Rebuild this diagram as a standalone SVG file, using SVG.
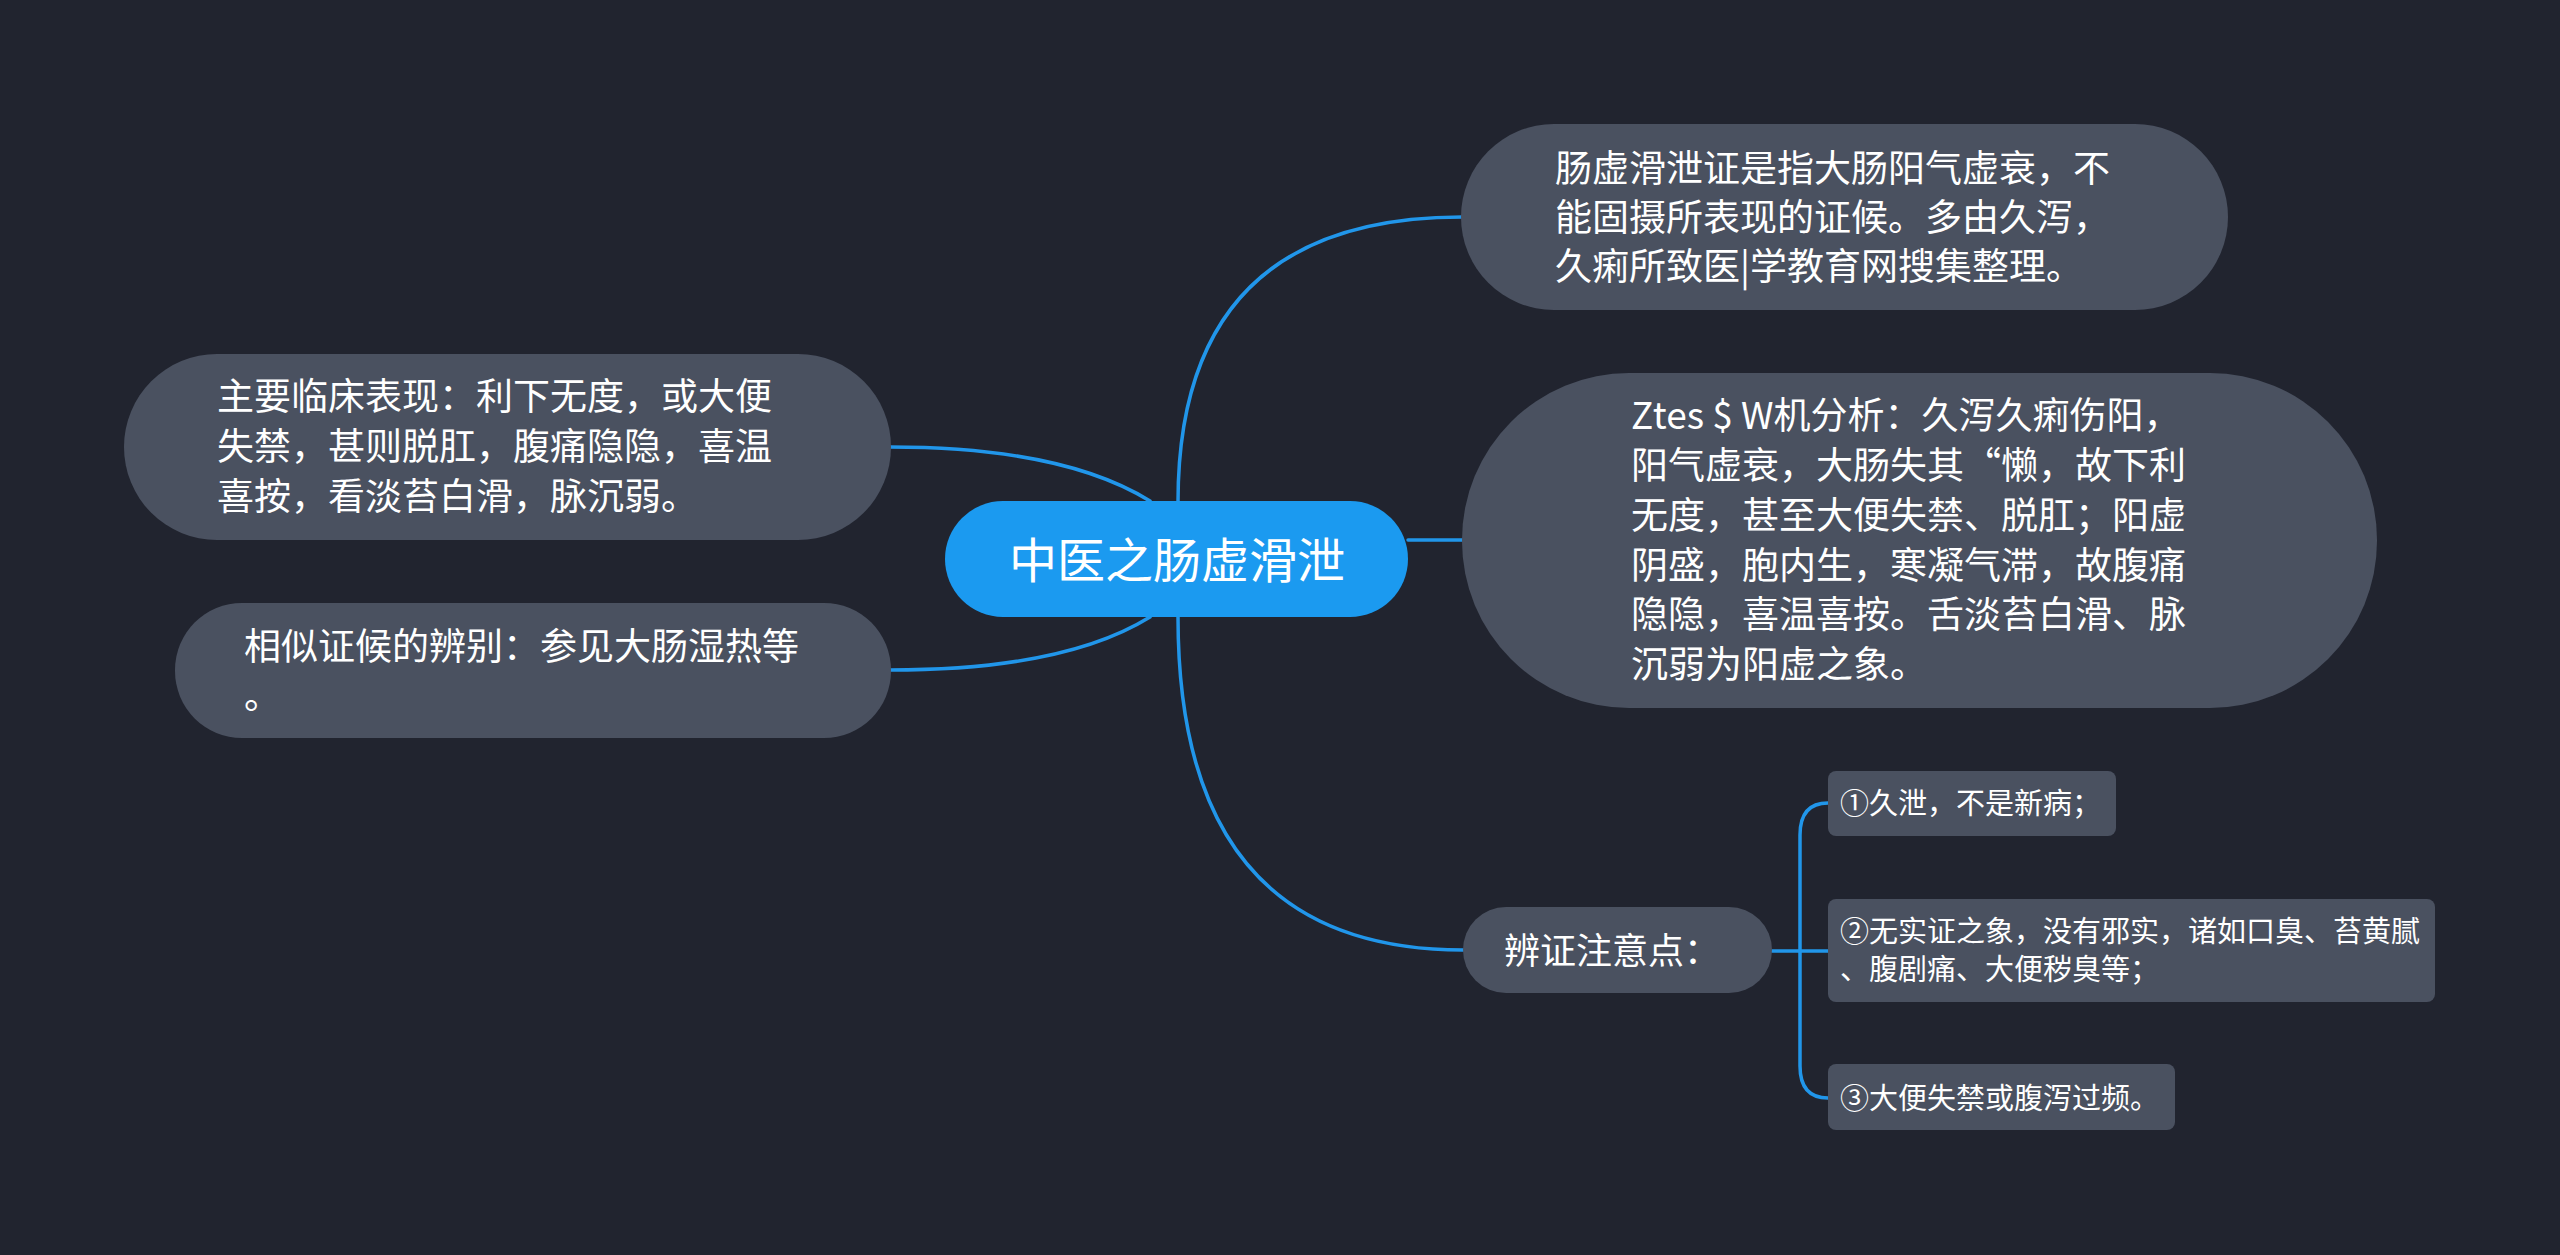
<svg xmlns="http://www.w3.org/2000/svg" width="2560" height="1255" viewBox="0 0 2560 1255">
<style>
.bg{fill:#21242f}
.node{fill:#4a5160}
.root{fill:#1b9af0}
.t{font-family:"Noto Sans CJK SC","Noto Sans",sans-serif;fill:#ffffff}
.t37{font-size:37px}
.t29{font-size:29px}
.link{fill:none;stroke:#2196ea;stroke-width:3.5;stroke-linecap:round}
</style>
<rect class="bg" x="0" y="0" width="2560" height="1255"/>
<g id="connectors">
<path class="link" d="M1178,502 Q1178,217 1462,217"/>
<path class="link" d="M1408,540 L1462,540"/>
<path class="link" d="M1178,617 Q1178,950 1463,950"/>
<path class="link" d="M1150,501 C1100,470 1020,447 890,447"/>
<path class="link" d="M1150,617 C1100,648 1020,670 890,670"/>
<path class="link" d="M1772,951 L1828,951"/>
<path class="link" d="M1800,951 V835 Q1800,803 1828,803"/>
<path class="link" d="M1800,951 V1066 Q1800,1098 1828,1098"/>
</g>
<g id="root">
<rect class="root" x="945" y="501" width="463" height="116" rx="58"/>
<text class="t" x="1177" y="578" font-size="48" text-anchor="middle">中医之肠虚滑泄</text>
</g>
<g id="n1">
<rect class="node" x="1461" y="124" width="767" height="186" rx="93"/>
<text class="t t37"><tspan x="1555" y="182">肠虚滑泄证是指大肠阳气虚衰，不</tspan><tspan x="1555" y="231">能固摄所表现的证候。多由久泻，</tspan><tspan x="1555" y="280">久痢所致医|学教育网搜集整理。</tspan></text>
</g>
<g id="n2">
<rect class="node" x="1462" y="373" width="915" height="335" rx="167"/>
<text class="t t37"><tspan x="1631" y="429">Ztes $ W机分析：久泻久痢伤阳，</tspan><tspan x="1631" y="479">阳气虚衰，大肠失其“懒，故下利</tspan><tspan x="1631" y="529">无度，甚至大便失禁、脱肛；阳虚</tspan><tspan x="1631" y="579">阴盛，胞内生，寒凝气滞，故腹痛</tspan><tspan x="1631" y="628">隐隐，喜温喜按。舌淡苔白滑、脉</tspan><tspan x="1631" y="678">沉弱为阳虚之象。</tspan></text>
</g>
<g id="n3">
<rect class="node" x="124" y="354" width="767" height="186" rx="93"/>
<text class="t t37"><tspan x="217" y="410">主要临床表现：利下无度，或大便</tspan><tspan x="217" y="460">失禁，甚则脱肛，腹痛隐隐，喜温</tspan><tspan x="217" y="510">喜按，看淡苔白滑，脉沉弱。</tspan></text>
</g>
<g id="n4">
<rect class="node" x="175" y="603" width="716" height="135" rx="67"/>
<text class="t t37"><tspan x="244" y="660">相似证候的辨别：参见大肠湿热等</tspan><tspan x="244" y="709">。</tspan></text>
</g>
<g id="n5">
<rect class="node" x="1463" y="907" width="309" height="86" rx="43"/>
<text class="t" x="1504" y="964" font-size="36">辨证注意点：</text>
</g>
<g id="n5a">
<rect class="node" x="1828" y="771" width="288" height="65" rx="8"/>
<text class="t t29" x="1840" y="814">①久泄，不是新病；</text>
</g>
<g id="n5b">
<rect class="node" x="1828" y="899" width="607" height="103" rx="8"/>
<text class="t t29"><tspan x="1840" y="942">②无实证之象，没有邪实，诸如口臭、苔黄腻</tspan><tspan x="1840" y="980">、腹剧痛、大便秽臭等；</tspan></text>
</g>
<g id="n5c">
<rect class="node" x="1828" y="1064" width="347" height="66" rx="8"/>
<text class="t t29" x="1840" y="1109">③大便失禁或腹泻过频。</text>
</g>
</svg>
